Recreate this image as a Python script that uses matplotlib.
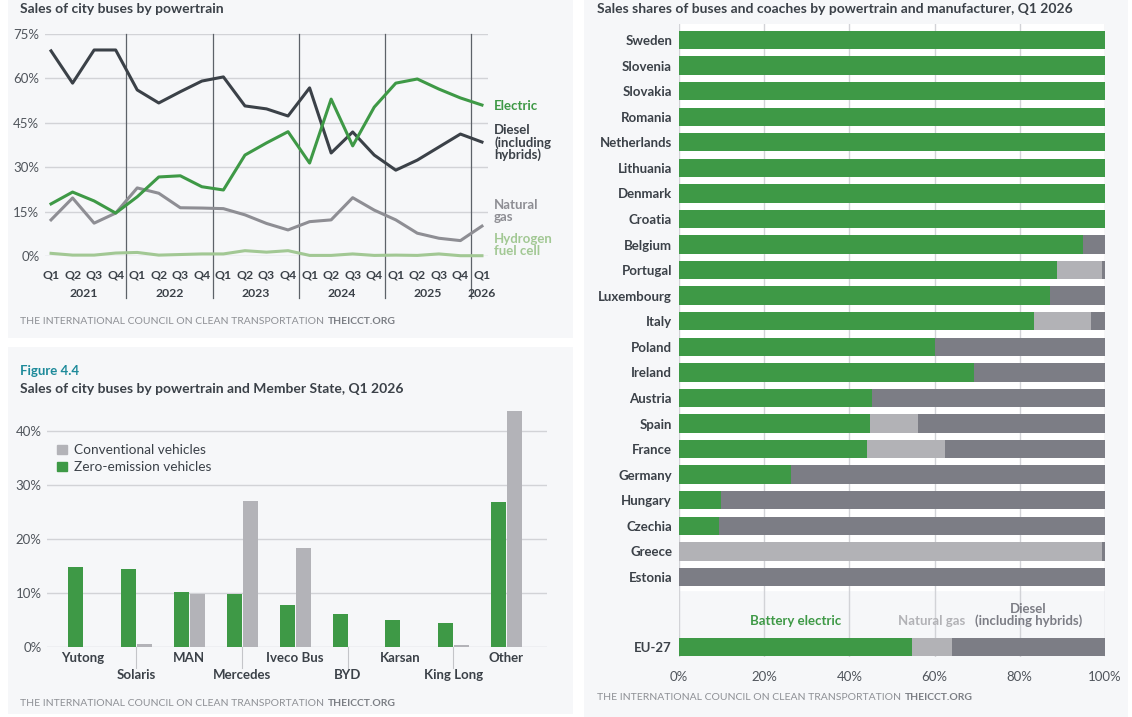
import matplotlib
matplotlib.use("Agg")
import matplotlib.pyplot as plt
from matplotlib.patches import Rectangle, Patch

plt.rcParams['font.family'] = ['Lato', 'DejaVu Sans']

# --- data: sales of city buses by powertrain (share, %) ---
quarters = ['Q1', 'Q2', 'Q3', 'Q4'] * 5 + ['Q1']
years = ['2021', '2022', '2023', '2024', '2025', '2026']
electric = [17.6, 21.6, 18.6, 14.5, 20.0, 26.7, 27.1, 23.4, 22.3, 34.1, 38.2, 42.0,
            31.4, 53.0, 37.2, 50.3, 58.4, 59.8, 56.4, 53.4, 51.0]
diesel = [69.3, 58.4, 69.6, 69.6, 56.1, 51.7, 55.5, 59.1, 60.5, 50.7, 49.7, 47.3,
          56.8, 34.8, 41.9, 34.1, 29.0, 32.4, 36.8, 41.2, 38.5]
natural_gas = [12.2, 19.6, 11.1, 14.5, 23.0, 21.2, 16.3, 16.2, 16.0, 13.9, 11.0, 8.8,
               11.6, 12.2, 19.7, 15.5, 12.2, 7.7, 6.0, 5.2, 10.1]
hydrogen = [0.9, 0.3, 0.3, 1.0, 1.2, 0.3, 0.5, 0.7, 0.7, 1.8, 1.3, 1.8,
            0.2, 0.2, 0.7, 0.2, 0.3, 0.2, 0.7, 0.1, 0.1]

# --- data: city buses by manufacturer, Q1 2026 (%) ---
manufacturers = ['Yutong', 'Solaris', 'MAN', 'Mercedes', 'Iveco Bus', 'BYD',
                 'Karsan', 'King Long', 'Other']
zero_emission = [14.8, 14.4, 10.2, 9.8, 7.7, 6.2, 5.0, 4.5, 26.8]
conventional = [0.0, 0.6, 9.9, 27.0, 18.3, 0.0, 0.0, 0.3, 43.7]

# --- data: sales shares by country, Q1 2026 (%) ---
countries = ['Sweden', 'Slovenia', 'Slovakia', 'Romania', 'Netherlands', 'Lithuania',
             'Denmark', 'Croatia', 'Belgium', 'Portugal', 'Luxembourg', 'Italy',
             'Poland', 'Ireland', 'Austria', 'Spain', 'France', 'Germany', 'Hungary',
             'Czechia', 'Greece', 'Estonia', 'EU-27']
battery_electric = [100, 100, 100, 100, 100, 100, 100, 100, 94.8, 88.7, 87.1, 83.3,
                    60.1, 69.2, 45.3, 44.8, 44.1, 26.3, 9.9, 9.4, 0, 0, 54.7]
gas_share = [0, 0, 0, 0, 0, 0, 0, 0, 0, 10.6, 0, 13.4,
             0, 0, 0, 11.3, 18.3, 0, 0, 0, 99.3, 0, 9.4]
diesel_share = [0, 0, 0, 0, 0, 0, 0, 0, 5.2, 0.7, 12.9, 3.3,
                39.9, 30.8, 54.7, 43.9, 37.6, 73.7, 90.1, 90.6, 0.7, 100, 35.9]

# colours
GREEN = '#3e9946'
DARK = '#3b4148'
GAS = '#8e8e94'
H2 = '#a2c894'
CONV = '#b3b3b8'
LGAS = '#b2b2b6'
DGRAY = '#7c7d85'
GRID = '#d2d3d7'
TICK = '#50555c'
PANEL = '#f6f7f9'
FOOT = '#8e9095'

W, H = 1132, 717
fig = plt.figure(figsize=(W / 100, H / 100), dpi=100)
fig.patch.set_facecolor('white')
renderer = fig.canvas.get_renderer()


def fx(x):
    return x / W


def fy(y):
    return 1 - y / H


def px_axes(x0, y0, x1, y1):
    return fig.add_axes([fx(x0), fy(y1), (x1 - x0) / W, (y1 - y0) / H])


def panel(x0, y0, x1, y1):
    fig.patches.append(Rectangle((fx(x0), fy(y1)), (x1 - x0) / W, (y1 - y0) / H,
                                 transform=fig.transFigure, facecolor=PANEL,
                                 edgecolor='none', zorder=-5))


def footer(x, y):
    t = fig.text(fx(x), fy(y), 'THE INTERNATIONAL COUNCIL ON CLEAN TRANSPORTATION',
                 fontsize=7.5, color=FOOT, va='center')
    x1 = t.get_window_extent(renderer).x1
    fig.text(fx(x1 + 4), fy(y), 'THEICCT.ORG', fontsize=7.5, color='#7b7e84',
             fontweight='bold', va='center')


panel(8, 0, 573, 338)
panel(8, 347, 573, 714)
panel(584, 0, 1128, 717)

# ================= line chart =================
fig.text(fx(20), fy(9), 'Sales of city buses by powertrain', fontsize=10,
         fontweight='bold', color=DARK, va='center')
ax1 = px_axes(45, 34, 488, 256)
ax1.set_facecolor('none')
x = list(range(len(quarters)))
ax1.set_xlim(-0.28, 20.28)
ax1.set_ylim(0, 75)
for yv in range(0, 76, 15):
    ax1.axhline(yv, color=GRID, lw=1.0, zorder=1)
ax1.plot(x, hydrogen, color=H2, lw=2.2, zorder=3, clip_on=False)
ax1.plot(x, natural_gas, color=GAS, lw=2.2, zorder=3, clip_on=False)
ax1.plot(x, diesel, color=DARK, lw=2.2, zorder=4, clip_on=False)
ax1.plot(x, electric, color=GREEN, lw=2.2, zorder=4, clip_on=False)
for d in [3.5, 7.5, 11.5, 15.5, 19.5]:
    ax1.plot([d, d], [1.0, -0.19], transform=ax1.get_xaxis_transform(),
             color='#5d6269', lw=0.9, clip_on=False, zorder=2)
ax1.set_yticks(range(0, 76, 15))
ax1.set_yticklabels([f'{v}%' for v in range(0, 76, 15)])
ax1.tick_params(axis='y', length=0, labelsize=9.5, labelcolor=TICK, pad=4)
ax1.set_xticks([])
for s in ax1.spines.values():
    s.set_visible(False)
for i, q in enumerate(quarters):
    ax1.text(i, -0.086, q, transform=ax1.get_xaxis_transform(), ha='center',
             va='center', fontsize=8.8, fontweight='bold', color=DARK)
year_pos = [1.5, 5.5, 9.5, 13.5, 17.5, 20]
for p, yr in zip(year_pos, years):
    ax1.text(p, -0.167, yr, transform=ax1.get_xaxis_transform(), ha='center',
             va='center', fontsize=8.8, fontweight='bold', color=DARK)
lx = 20.56
ax1.text(lx, 50.7, 'Electric', color=GREEN, fontsize=9.5, fontweight='bold', va='center')
ax1.text(lx, 38.3, 'Diesel\n(including\nhybrids)', color=DARK, fontsize=9.5,
         fontweight='bold', va='center', linespacing=0.95)
ax1.text(lx, 15.2, 'Natural\ngas', color=GAS, fontsize=9.5, fontweight='bold',
         va='center', linespacing=0.95)
ax1.text(lx, 3.8, 'Hydrogen\nfuel cell', color=H2, fontsize=9.5, fontweight='bold',
         va='center', linespacing=0.95)
footer(20, 322)

# ================= bar chart by manufacturer =================
fig.text(fx(20), fy(371), 'Figure 4.4', fontsize=9.5, fontweight='bold',
         color='#1d8a9a', va='center')
fig.text(fx(20), fy(389), 'Sales of city buses by powertrain and Member State, Q1 2026',
         fontsize=10, fontweight='bold', color=DARK, va='center')
ax2 = px_axes(47, 404, 547, 647)
ax2.set_facecolor('none')
pos = list(range(len(manufacturers)))
bw = 0.284
ax2.set_xlim(-0.68, 8.77)
ax2.set_ylim(0, 45)
for yv in range(0, 41, 10):
    ax2.axhline(yv, color=GRID, lw=1.0, zorder=1)
ax2.bar([p - bw / 2 for p in pos], zero_emission, width=bw, color=GREEN, zorder=3,
        label='Zero-emission vehicles')
ax2.bar([p + bw / 2 + 0.02 for p in pos], conventional, width=bw, color=CONV, zorder=3,
        label='Conventional vehicles')
ax2.set_yticks(range(0, 41, 10))
ax2.set_yticklabels([f'{v}%' for v in range(0, 41, 10)])
ax2.tick_params(axis='y', length=0, labelsize=9.5, labelcolor=TICK, pad=4)
ax2.set_xticks([])
for s in ax2.spines.values():
    s.set_visible(False)
for i, m in enumerate(manufacturers):
    if i % 2 == 0:
        ax2.text(i, -11 / 5.4, m, ha='center', va='center', fontsize=9.5,
                 fontweight='bold', color=DARK)
    else:
        ax2.plot([i, i], [0, -21 / 5.4], color='#c4c5c9', lw=0.8, clip_on=False)
        ax2.text(i, -28 / 5.4, m, ha='center', va='center', fontsize=9.5,
                 fontweight='bold', color=DARK)
handles = [Patch(color=CONV), Patch(color=GREEN)]
ax2.legend(handles, ['Conventional vehicles', 'Zero-emission vehicles'],
           loc='upper left', bbox_to_anchor=(fx(52), fy(439)),
           bbox_transform=fig.transFigure, frameon=False, fontsize=9.8,
           handlelength=0.7, handleheight=0.7, handletextpad=0.5,
           labelspacing=0.35, borderaxespad=0, labelcolor=DARK)
footer(20, 703)

# ================= horizontal stacked bars by country =================
fig.text(fx(597), fy(9), 'Sales shares of buses and coaches by powertrain and manufacturer, Q1 2026',
         fontsize=10, fontweight='bold', color=DARK, va='center')
ax3 = px_axes(679, 24, 1105, 657)
ax3.set_facecolor('none')
rows = list(range(len(countries) - 1)) + [23.74]
ax3.set_xlim(0, 100)
ax3.set_ylim(24.13, -0.626)
ax3.axhspan(-0.626, 21.5, color='white', zorder=0)
for xv in range(0, 101, 20):
    ax3.axvline(xv, color=GRID, lw=1.0, zorder=1)
bh = 0.72
left2 = battery_electric
left3 = [a + b for a, b in zip(battery_electric, gas_share)]
ax3.barh(rows, battery_electric, height=bh, color=GREEN, zorder=3)
ax3.barh(rows, gas_share, left=left2, height=bh, color=LGAS, zorder=3)
ax3.barh(rows, diesel_share, left=left3, height=bh, color=DGRAY, zorder=3)
ax3.set_yticks(rows)
ax3.set_yticklabels(countries)
ax3.tick_params(axis='y', length=0, labelsize=9.5, labelcolor=DARK, pad=5)
for lab in ax3.get_yticklabels():
    lab.set_fontweight('bold')
ax3.set_xticks(range(0, 101, 20))
ax3.set_xticklabels([f'{v}%' for v in range(0, 101, 20)])
ax3.tick_params(axis='x', length=0, labelsize=9.5, labelcolor=TICK, pad=10)
for s in ax3.spines.values():
    s.set_visible(False)
eu = len(countries) - 1
ly = rows[eu] - bh / 2 - 0.42
ax3.text(battery_electric[eu] / 2, ly, 'Battery electric', ha='center', va='bottom',
         fontsize=9.5, fontweight='bold', color=GREEN)
ax3.text(left2[eu] + gas_share[eu] / 2, ly, 'Natural gas', ha='center', va='bottom',
         fontsize=9.5, fontweight='bold', color=LGAS)
ax3.text(left3[eu] + diesel_share[eu] / 2, ly, 'Diesel\n(including hybrids)',
         ha='center', va='bottom', fontsize=9.5, fontweight='bold', color=DGRAY,
         linespacing=0.95)
footer(597, 697)

fig.savefig('out.png', dpi=100)
